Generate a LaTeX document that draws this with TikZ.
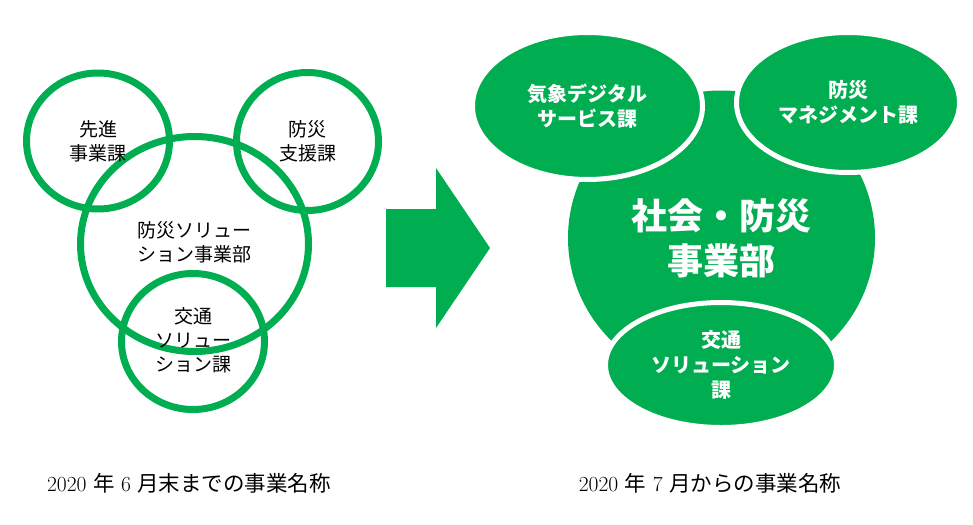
\documentclass[tikz,border=0pt]{standalone}
\usepackage{fontspec}
\newfontfamily\jp{Noto Sans CJK JP}
\usetikzlibrary{shapes.geometric}
\definecolor{kgreen}{RGB}{0,173,80}
\tikzset{
  ring/.style={ellipse, draw=kgreen, line width=7pt, inner sep=0pt},
  ring text/.style={align=center, font=\jp\fontsize{19}{24}\selectfont},
  unit/.style={ellipse, fill=kgreen, draw=white, line width=5pt, inner sep=0pt,
    text=white, align=center, font=\jp\bfseries\fontsize{20}{25}\selectfont},
  caption/.style={font=\fontsize{21.5}{24}\selectfont},
}

\begin{document}
\begin{tikzpicture}[x=1pt, y=-1pt]
  \useasboundingbox (0,0) rectangle (973,524);

  % Before: outlined rings
  \node[ring, minimum width=143pt, minimum height=136pt] (senshin) at (98,141) {};
  \node[ring, minimum width=142pt, minimum height=138pt] (shien) at (307.5,141.5) {};
  \node[ring, minimum width=228pt, minimum height=215pt] (bousol) at (194.5,244) {};
  \node[ring, minimum width=143pt, minimum height=136pt] (koutsuA) at (193,341.5) {};

  \node[ring text] (senshinT) at (senshin) {先進\\事業課};
  \node[ring text] (shienT) at (shien) {防災\\支援課};
  \node[ring text] (bousolT) at (194,242) {防災ソリュー\\ション事業部};
  \node[ring text] (koutsuAT) at (193,340) {交通\\ソリュー\\ション課};

  % Arrow
  \fill[kgreen] (386,209) -- (436,209) -- (436,168) -- (490,248)
    -- (436,328) -- (436,287) -- (386,287) -- cycle;

  % After: filled units
  \node[ellipse, fill=kgreen, inner sep=0pt, minimum width=307pt, minimum height=295pt,
    text=white, align=center, font=\jp\bfseries\fontsize{36}{45}\selectfont]
    (shakai) at (721.5,238) {社会・防災\\事業部};
  \node[unit, minimum width=231pt, minimum height=125pt] (koutsuB) at (721,365)
    {交通\\ソリューション\\課};
  \node[unit, minimum width=230pt, minimum height=147pt] (kishou) at (587.5,106)
    {気象デジタル\\サービス課};
  \node[unit, minimum width=223pt, minimum height=140pt] (manage) at (848,102.5)
    {防災\\マネジメント課};

  % Captions
  \node[caption] (before) at (189,483) {2020 {\jp 年} 6 {\jp 月末までの事業名称}};
  \node[caption] (after) at (710,483) {2020 {\jp 年} 7 {\jp 月からの事業名称}};
\end{tikzpicture}
\end{document}
